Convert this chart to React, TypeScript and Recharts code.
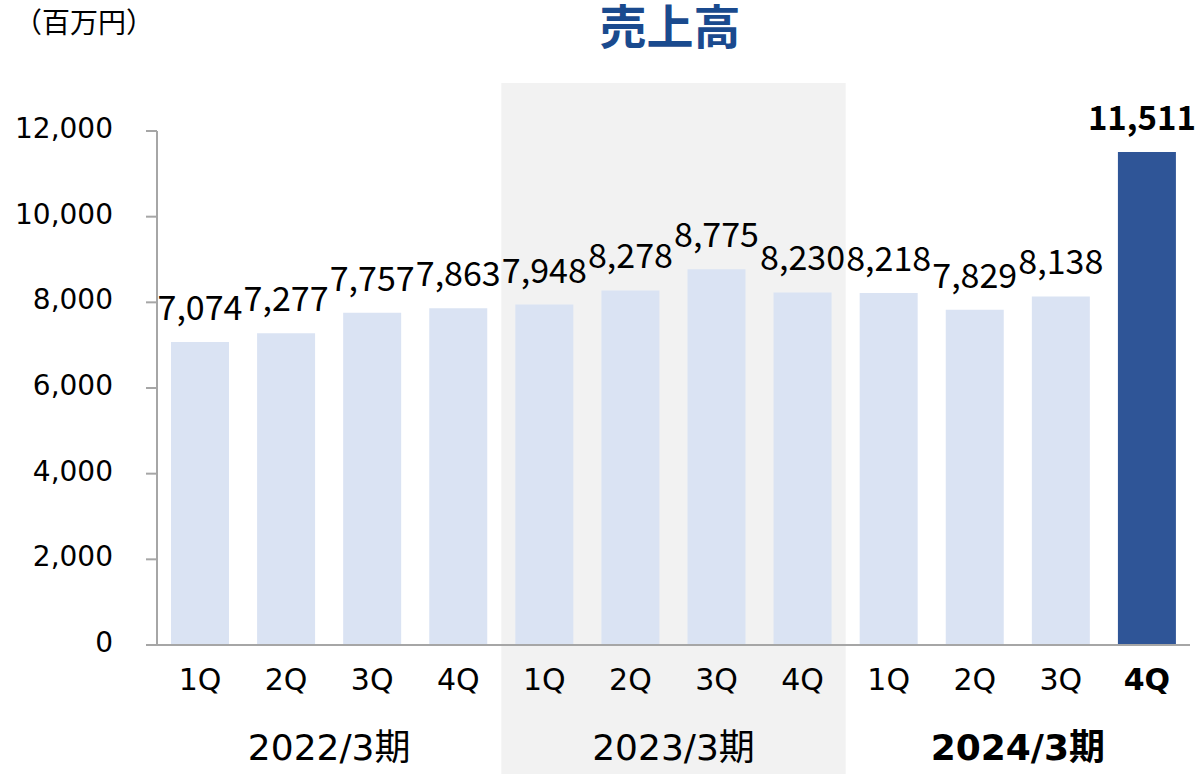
import { BarChart, Bar, XAxis, YAxis, Cell, LabelList, ReferenceArea } from "recharts";

const categories = [
  "2022-1Q", "2022-2Q", "2022-3Q", "2022-4Q",
  "2023-1Q", "2023-2Q", "2023-3Q", "2023-4Q",
  "2024-1Q", "2024-2Q", "2024-3Q", "2024-4Q",
];
const quarterLabels = ["1Q", "2Q", "3Q", "4Q", "1Q", "2Q", "3Q", "4Q", "1Q", "2Q", "3Q", "4Q"];
const sales = [7074, 7277, 7757, 7863, 7948, 8278, 8775, 8230, 8218, 7829, 8138, 11511];
const yTicks = [0, 2000, 4000, 6000, 8000, 10000, 12000];

const fiscalYears = ["2022/3期", "2023/3期", "2024/3期"];
const yearStart = ["2022-1Q", "2023-1Q", "2024-1Q"];
const yearEnd = ["2022-4Q", "2023-4Q", "2024-4Q"];

const LIGHT = "#dae3f3";
const DARK = "#2f5597";
const AXIS = "#a6a6a6";
const LATIN = "'DejaVu Sans', 'Noto Sans CJK JP', sans-serif";
const CJK = "'Noto Sans CJK JP', sans-serif";

const data = categories.map((c, i) => ({ key: c, q: quarterLabels[i], value: sales[i] }));
const lastIdx = data.length - 1;

function XTick(props: any) {
  const { x, y, index } = props;
  return (
    <text
      x={x}
      y={y + 45}
      textAnchor="middle"
      fontFamily={LATIN}
      fontSize={30}
      fontWeight={index === lastIdx ? "bold" : "normal"}
      fill="#000"
    >
      {quarterLabels[index]}
    </text>
  );
}

function ValueLabel(props: any) {
  const { x, y, width, value, index } = props;
  const bold = index === lastIdx;
  return (
    <text
      x={x + width / 2 + (bold ? -5 : 0)}
      y={y - 22}
      textAnchor="middle"
      fontFamily={CJK}
      fontSize={bold ? 33 : 34}
      fontWeight={bold ? "bold" : "normal"}
      fill="#000"
    >
      {Number(value).toLocaleString("en-US")}
    </text>
  );
}

function yearLabel(text: string, bold: boolean) {
  return (props: any) => {
    const vb = props.viewBox;
    return (
      <text
        x={vb.x + vb.width / 2}
        y={vb.y + vb.height / 2 + 12}
        textAnchor="middle"
        fontFamily={LATIN}
        fontSize={36}
        fontWeight={bold ? "bold" : "normal"}
        fill="#000"
      >
        {text}
      </text>
    );
  };
}

export default function App() {
  return (
    <div style={{ position: "absolute", left: 0, top: 0, width: 1199, height: 774, background: "#fff" }}>
      <BarChart
        width={1199}
        height={774}
        data={data}
        margin={{ top: 131, right: 9, left: 0, bottom: 0 }}
      >
        {/* shaded FY2023 block */}
        <ReferenceArea
          x1={yearStart[1]}
          x2={yearEnd[1]}
          y1={-3020}
          y2={13120}
          fill="#f2f2f2"
          fillOpacity={1}
          stroke="none"
          ifOverflow="visible"
        />
        {fiscalYears.map((fy, i) => (
          <ReferenceArea
            key={fy}
            x1={yearStart[i]}
            x2={yearEnd[i]}
            y1={-3000}
            y2={-1800}
            fill="none"
            stroke="none"
            ifOverflow="visible"
            label={yearLabel(fy, i === fiscalYears.length - 1)}
          />
        ))}
        <XAxis
          dataKey="key"
          height={129}
          interval={0}
          tickLine={false}
          tickSize={0}
          tickMargin={0}
          axisLine={{ stroke: AXIS, strokeWidth: 2 }}
          tick={<XTick />}
        />
        <YAxis
          width={157}
          domain={[0, 12000]}
          ticks={yTicks}
          allowDataOverflow
          tickSize={11}
          tickMargin={33}
          tickFormatter={(v: number) => v.toLocaleString("en-US")}
          tick={{ fill: "#000", fontSize: 28, fontFamily: LATIN, dy: -3 }}
          axisLine={{ stroke: AXIS, strokeWidth: 2 }}
          tickLine={{ stroke: AXIS, strokeWidth: 2 }}
        />
        <Bar dataKey="value" barSize={58} isAnimationActive={false}>
          {data.map((d, i) => (
            <Cell key={d.key} fill={i === lastIdx ? DARK : LIGHT} />
          ))}
          <LabelList dataKey="value" content={<ValueLabel />} />
        </Bar>
      </BarChart>
      {/* title + unit */}
      <svg
        width={1199}
        height={70}
        style={{ position: "absolute", left: 0, top: 0, pointerEvents: "none" }}
      >
        <text x={14} y={33} fontFamily={CJK} fontSize={28} fill="#000">
          （百万円）
        </text>
        <text
          x={670}
          y={44}
          textAnchor="middle"
          fontFamily={CJK}
          fontSize={47}
          fontWeight="bold"
          fill="#1a4a8e"
        >
          売上高
        </text>
      </svg>
    </div>
  );
}
